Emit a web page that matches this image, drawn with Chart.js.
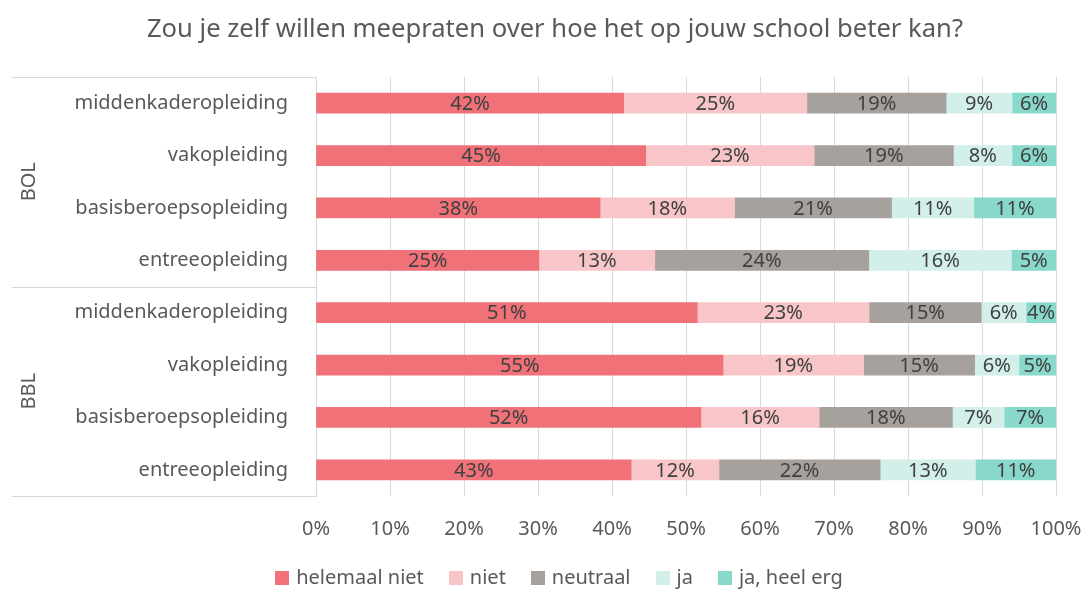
<!DOCTYPE html>
<html>
<head>
<meta charset="utf-8">
<script src="https://cdn.jsdelivr.net/npm/chart.js@4.4.1/dist/chart.umd.min.js"></script>
<style>
  body { margin: 0; background: #fff; }
  #wrap { width: 1084px; height: 590px; }
</style>
</head>
<body>
<div id="wrap"><canvas id="c" width="1084" height="590"></canvas></div>
<script>
// data, van boven naar onder
const groepen = ['BOL', 'BBL'];
const opleidingen = ['middenkaderopleiding', 'vakopleiding', 'basisberoepsopleiding', 'entreeopleiding'];
const reeksen = ['helemaal niet', 'niet', 'neutraal', 'ja', 'ja, heel erg'];
const helemaalNiet = [42, 45, 38, 25, 51, 55, 52, 43];
const niet = [25, 23, 18, 13, 23, 19, 16, 12];
const neutraal = [19, 19, 21, 24, 15, 15, 18, 22];
const ja = [9, 8, 11, 16, 6, 6, 7, 13];
const jaHeelErg = [6, 6, 11, 5, 4, 5, 7, 11];
const xTicks = [0, 10, 20, 30, 40, 50, 60, 70, 80, 90, 100];
const titel = 'Zou je zelf willen meepraten over hoe het op jouw school beter kan?';

const kleuren = ['#F07178', '#F8C6C8', '#A6A19D', '#D2EFEA', '#88D8CC'];
const FONT = 'Noto Sans';
const tekstKleur = '#595959';
const LBL = 20;

const labels = [];
groepen.forEach(() => opleidingen.forEach(o => labels.push(o)));

const ruw = [helemaalNiet, niet, neutraal, ja, jaHeelErg];
// 100% gestapeld: elke rij normaliseren
const totalen = labels.map((_, i) => ruw.reduce((s, r) => s + r[i], 0));

const datasets = ruw.map((r, k) => ({
    label: reeksen[k],
    data: r.map((v, i) => v / totalen[i] * 100),
    ruw: r,
    backgroundColor: kleuren[k],
    borderWidth: 0,
    barThickness: 20
}));

// labels midden in de balkjes
const waardeLabels = {
    id: 'waardeLabels',
    afterDatasetsDraw(chart) {
        const ctx = chart.ctx;
        ctx.save();
        ctx.font = LBL + 'px "' + FONT + '"';
        ctx.fillStyle = '#404040';
        ctx.textAlign = 'center';
        ctx.textBaseline = 'middle';
        chart.data.datasets.forEach((ds, k) => {
            const meta = chart.getDatasetMeta(k);
            meta.data.forEach((bar, i) => {
                const x = (bar.x + bar.base) / 2;
                ctx.fillText(ds.ruw[i] + '%', x, bar.y + 1);
            });
        });
        ctx.restore();
    }
};

// titel, groepslabels BOL / BBL met scheidingslijnen, legenda
const extra = {
    id: 'extra',
    afterDraw(chart) {
        const ctx = chart.ctx;
        const y = chart.scales.y;
        const area = chart.chartArea;
        const n = opleidingen.length;

        ctx.save();
        ctx.fillStyle = tekstKleur;
        ctx.textAlign = 'center';
        ctx.textBaseline = 'middle';
        ctx.font = '25.6px "' + FONT + '"';
        ctx.fillText(titel, 555, 30);

        const grenzen = [area.top];
        for (let g = 1; g < groepen.length; g++) {
            grenzen.push((y.getPixelForValue(g * n - 1) + y.getPixelForValue(g * n)) / 2);
        }
        grenzen.push(area.bottom);
        ctx.strokeStyle = '#D9D9D9';
        ctx.lineWidth = 1;
        grenzen.forEach(p => {
            ctx.beginPath();
            ctx.moveTo(12, Math.round(p) + 0.5);
            ctx.lineTo(area.left, Math.round(p) + 0.5);
            ctx.stroke();
        });
        ctx.font = LBL + 'px "' + FONT + '"';
        groepen.forEach((g, i) => {
            const mid = (grenzen[i] + grenzen[i + 1]) / 2;
            ctx.save();
            ctx.translate(29, mid);
            ctx.rotate(-Math.PI / 2);
            ctx.fillText(g, 0, 0);
            ctx.restore();
        });

        // legenda onderaan
        const box = 14, gap1 = 7, gap2 = 25;
        const breedtes = reeksen.map(r => ctx.measureText(r).width);
        const totaal = breedtes.reduce((s, w) => s + box + gap1 + w, 0) + gap2 * (reeksen.length - 1);
        let x = 559 - totaal / 2;
        const ly = 578;
        ctx.textAlign = 'left';
        reeksen.forEach((r, k) => {
            ctx.fillStyle = kleuren[k];
            ctx.fillRect(Math.round(x), ly - box / 2, box, box);
            x += box + gap1;
            ctx.fillStyle = tekstKleur;
            ctx.fillText(r, x, ly);
            x += breedtes[k] + gap2;
        });
        ctx.restore();
    }
};

new Chart(document.getElementById('c'), {
    type: 'bar',
    data: { labels: labels, datasets: datasets },
    plugins: [waardeLabels, extra],
    options: {
        indexAxis: 'y',
        responsive: false,
        devicePixelRatio: 1,
        animation: false,
        layout: { padding: { left: 0, right: 28, top: 77, bottom: 28 } },
        plugins: {
            tooltip: { enabled: false },
            title: { display: false },
            legend: { display: false }
        },
        scales: {
            x: {
                stacked: true,
                min: 0,
                max: 100,
                afterBuildTicks(scale) { scale.ticks = xTicks.map(v => ({ value: v })); },
                afterFit(scale) { scale.paddingRight = 0; scale.paddingLeft = 0; },
                ticks: {
                    callback: v => v + '%',
                    color: tekstKleur,
                    font: { family: FONT, size: LBL },
                    padding: 21,
                    maxRotation: 0
                },
                grid: { color: '#D9D9D9', drawTicks: false },
                border: { display: false }
            },
            y: {
                stacked: true,
                afterFit(scale) { scale.width = 316; scale.paddingTop = 0; scale.paddingBottom = 0; },
                ticks: {
                    color: tekstKleur,
                    font: { family: FONT, size: LBL },
                    padding: 28
                },
                grid: { display: false, drawTicks: false },
                border: { display: true, color: '#D9D9D9' }
            }
        }
    }
});
</script>
</body>
</html>
